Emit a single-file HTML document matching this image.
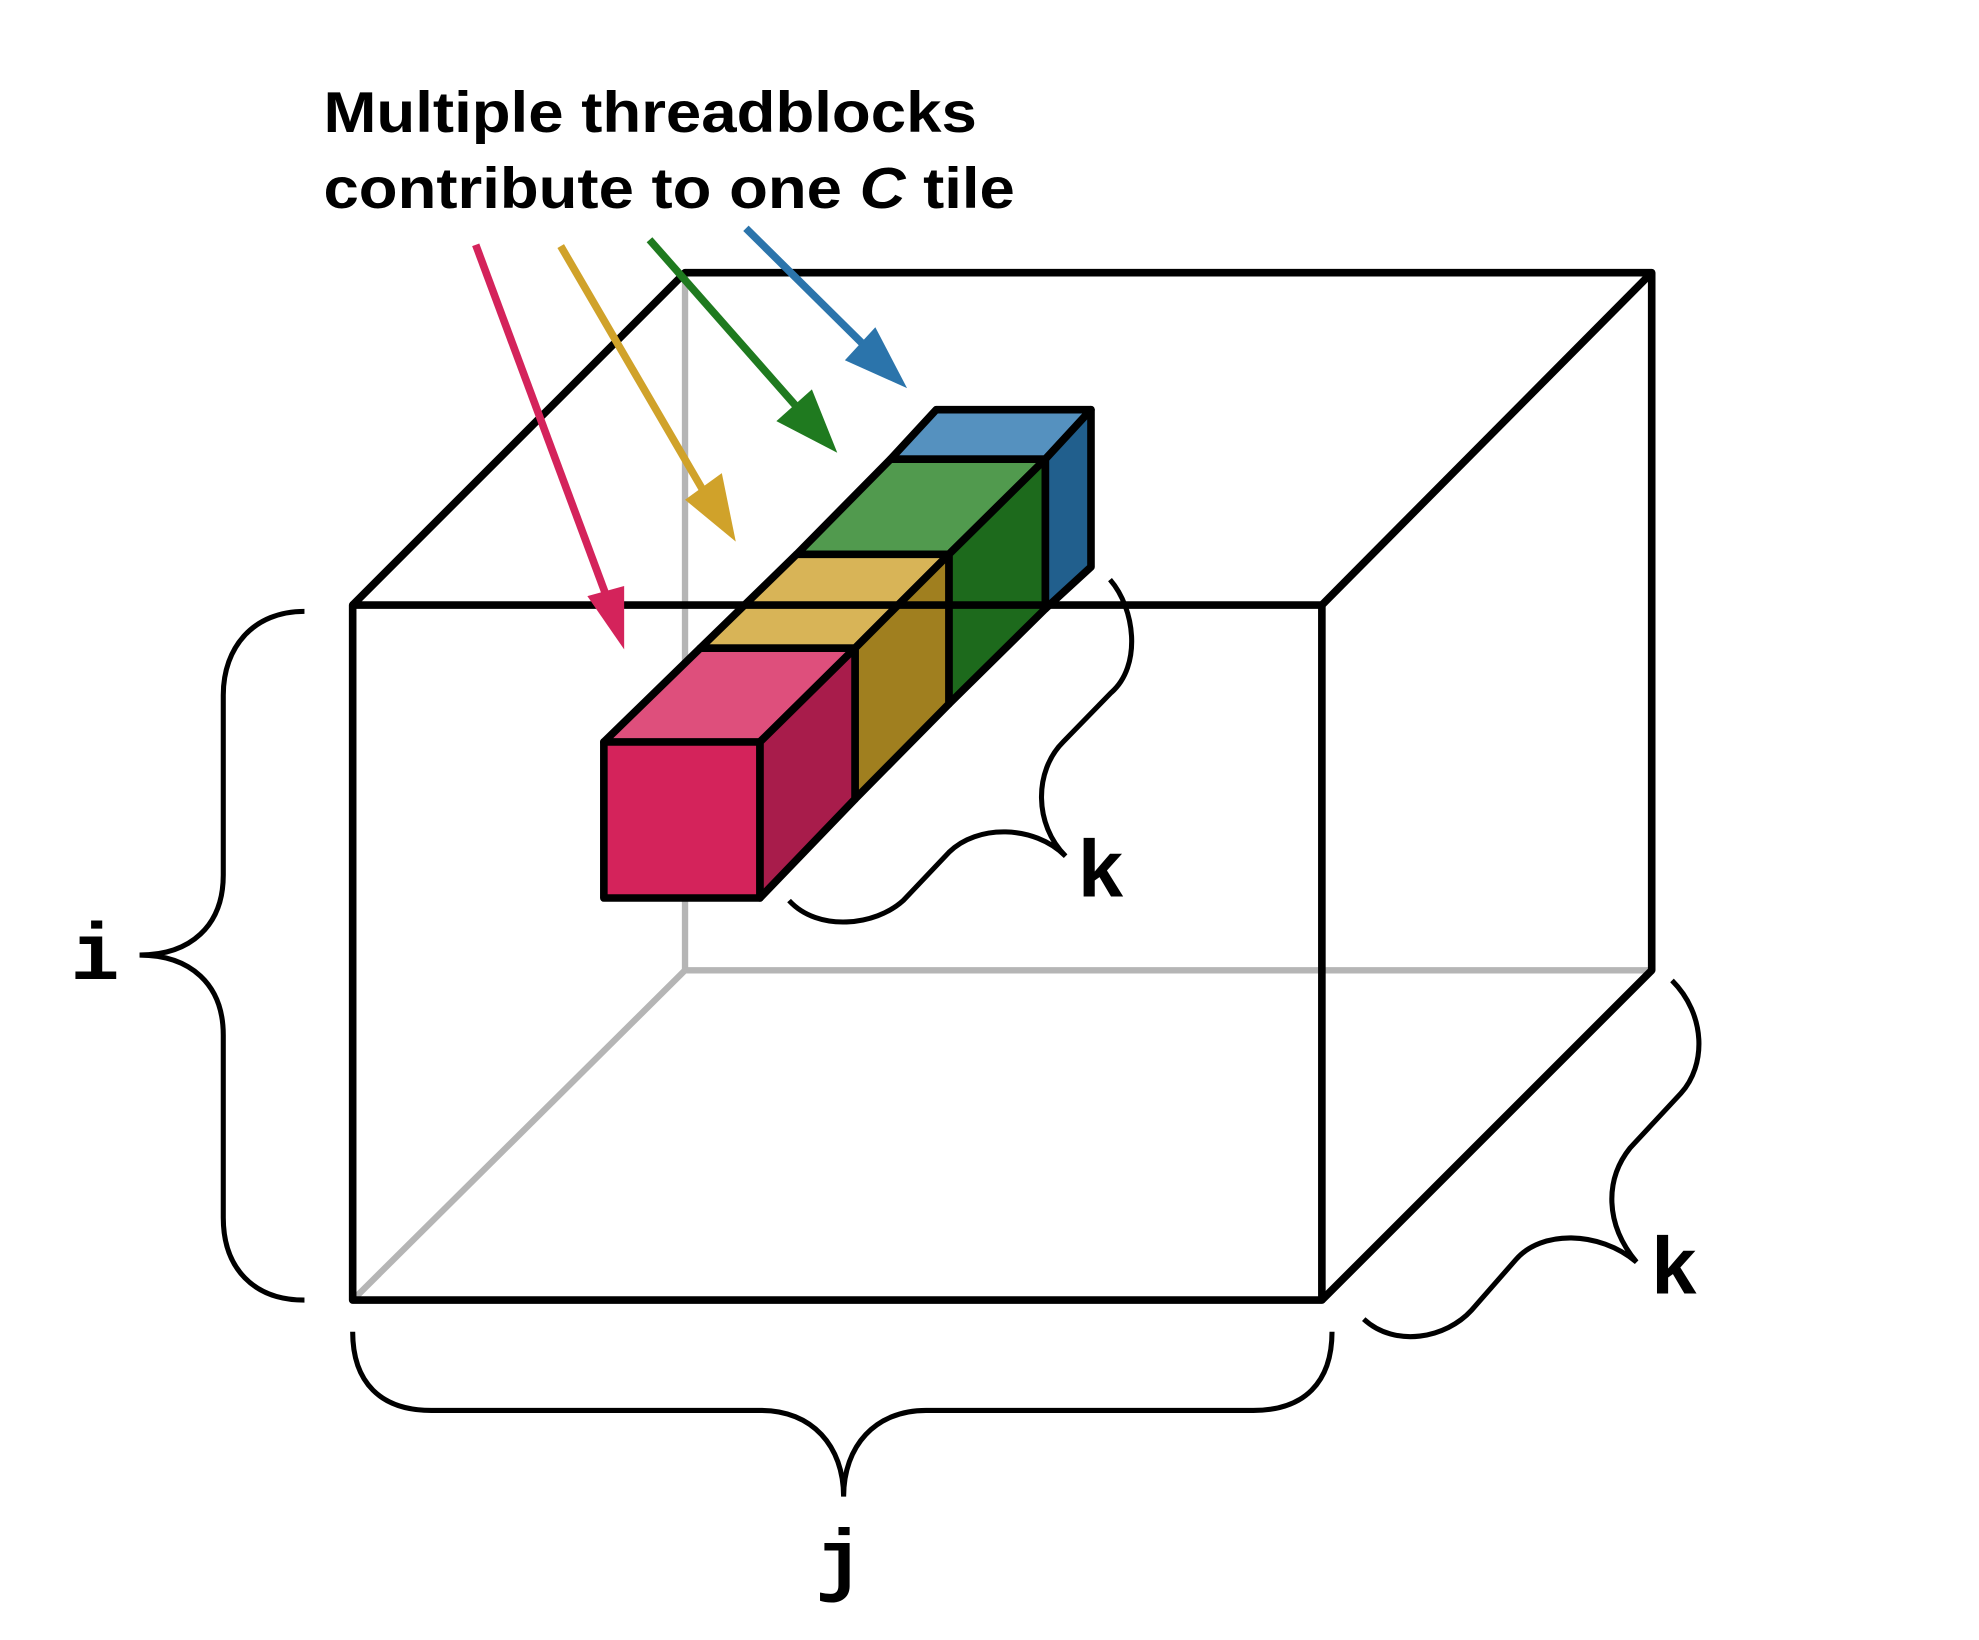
<!DOCTYPE html>
<html><head><meta charset="utf-8"><style>
html,body{margin:0;padding:0;background:#fff;}
svg{display:block;}
</style></head><body>
<svg width="1979" height="1640" viewBox="0 0 1560 1293" preserveAspectRatio="none" xmlns="http://www.w3.org/2000/svg">
<rect width="1560" height="1293" fill="#fff"/>
<g stroke="#b5b5b5" stroke-width="5" fill="none">
<line x1="540" y1="215" x2="540" y2="765"/>
<line x1="540" y1="765" x2="1302" y2="765"/>
<line x1="278" y1="1025" x2="540" y2="765"/>
</g>
<g stroke="#000" stroke-width="6" stroke-linejoin="round">
<polygon points="702,362 738,323 860,323 824,362" fill="#5591bf"/>
<polygon points="824,362 860,323 860,447 824,480" fill="#215f8d"/>
<polygon points="628,437 702,362 824,362 748,437" fill="#519a4e"/>
<polygon points="748,437 824,362 824,480 748,555" fill="#1d6a1c"/>
<polygon points="552,511 628,437 748,437 674,511" fill="#d8b457"/>
<polygon points="674,511 748,437 748,555 674,630" fill="#a07f1f"/>
<polygon points="476,585 552,511 674,511 599,585" fill="#de4f7c"/>
<polygon points="599,585 674,511 674,630 599,708" fill="#a81c4b"/>
<rect x="476" y="585" width="123" height="123" fill="#d4235b"/>
</g>
<g stroke="#000" stroke-width="6" fill="none" stroke-linejoin="round">
<rect x="278" y="477" width="764" height="548"/>
<polyline points="278,477 540,215 1302,215 1302,765 1042,1025"/>
<line x1="1042" y1="477" x2="1302" y2="215"/>
</g>
<g stroke-width="6">
<line x1="375" y1="193" x2="478" y2="470" stroke="#d4235b"/>
<polygon points="492,512 463,470 492,462" fill="#d4235b"/>
<line x1="442" y1="194" x2="555" y2="388" stroke="#d0a22a"/>
<polygon points="580,427 540,394 569,373" fill="#d0a22a"/>
<line x1="512" y1="189" x2="630" y2="323" stroke="#1f7a1f"/>
<polygon points="660,357 612,332 640,307" fill="#1f7a1f"/>
<line x1="588" y1="180" x2="687" y2="278" stroke="#2b74ab"/>
<polygon points="715,306 666,284 690,258" fill="#2b74ab"/>
</g>
<g stroke="#000" stroke-width="4" fill="none">
<path d="M240,482 C200,482 176,510 176,548 L176,690 C176,730 150,753 110,753 C150,753 176,776 176,816 L176,960 C176,1000 200,1025 240,1025"/>
<path d="M278,1050 C278,1090 300,1112 340,1112 L600,1112 C640,1112 665,1140 665,1180 C665,1140 690,1112 730,1112 L988,1112 C1028,1112 1050,1090 1050,1050"/>
<path d="M1318,773 C1345,800 1345,840 1325,862 L1285,905 C1265,930 1265,965 1290,995 C1260,970 1215,970 1195,993 L1160,1033 C1140,1055 1100,1063 1075,1040"/>
<path d="M875,457 C895,480 900,525 876,546 L838,585 C815,608 815,650 840,675 C815,650 770,650 748,672 L712,710 C690,730 645,735 622,710"/>
</g>
<g font-family="Liberation Mono, monospace" font-weight="bold" font-size="64" fill="#000" text-anchor="middle">
<text x="75" y="772">i</text>
<text x="868" y="707">k</text>
<text x="1320" y="1020">k</text>
<text x="662" y="1250">j</text>
</g>
<g font-family="Liberation Sans, sans-serif" font-weight="bold" font-size="45" fill="#000">
<text x="255" y="104" textLength="515" lengthAdjust="spacingAndGlyphs">Multiple threadblocks</text>
<text x="255" y="164" textLength="545" lengthAdjust="spacingAndGlyphs">contribute to one <tspan font-style="italic">C</tspan> tile</text>
</g>
</svg>
</body></html>
